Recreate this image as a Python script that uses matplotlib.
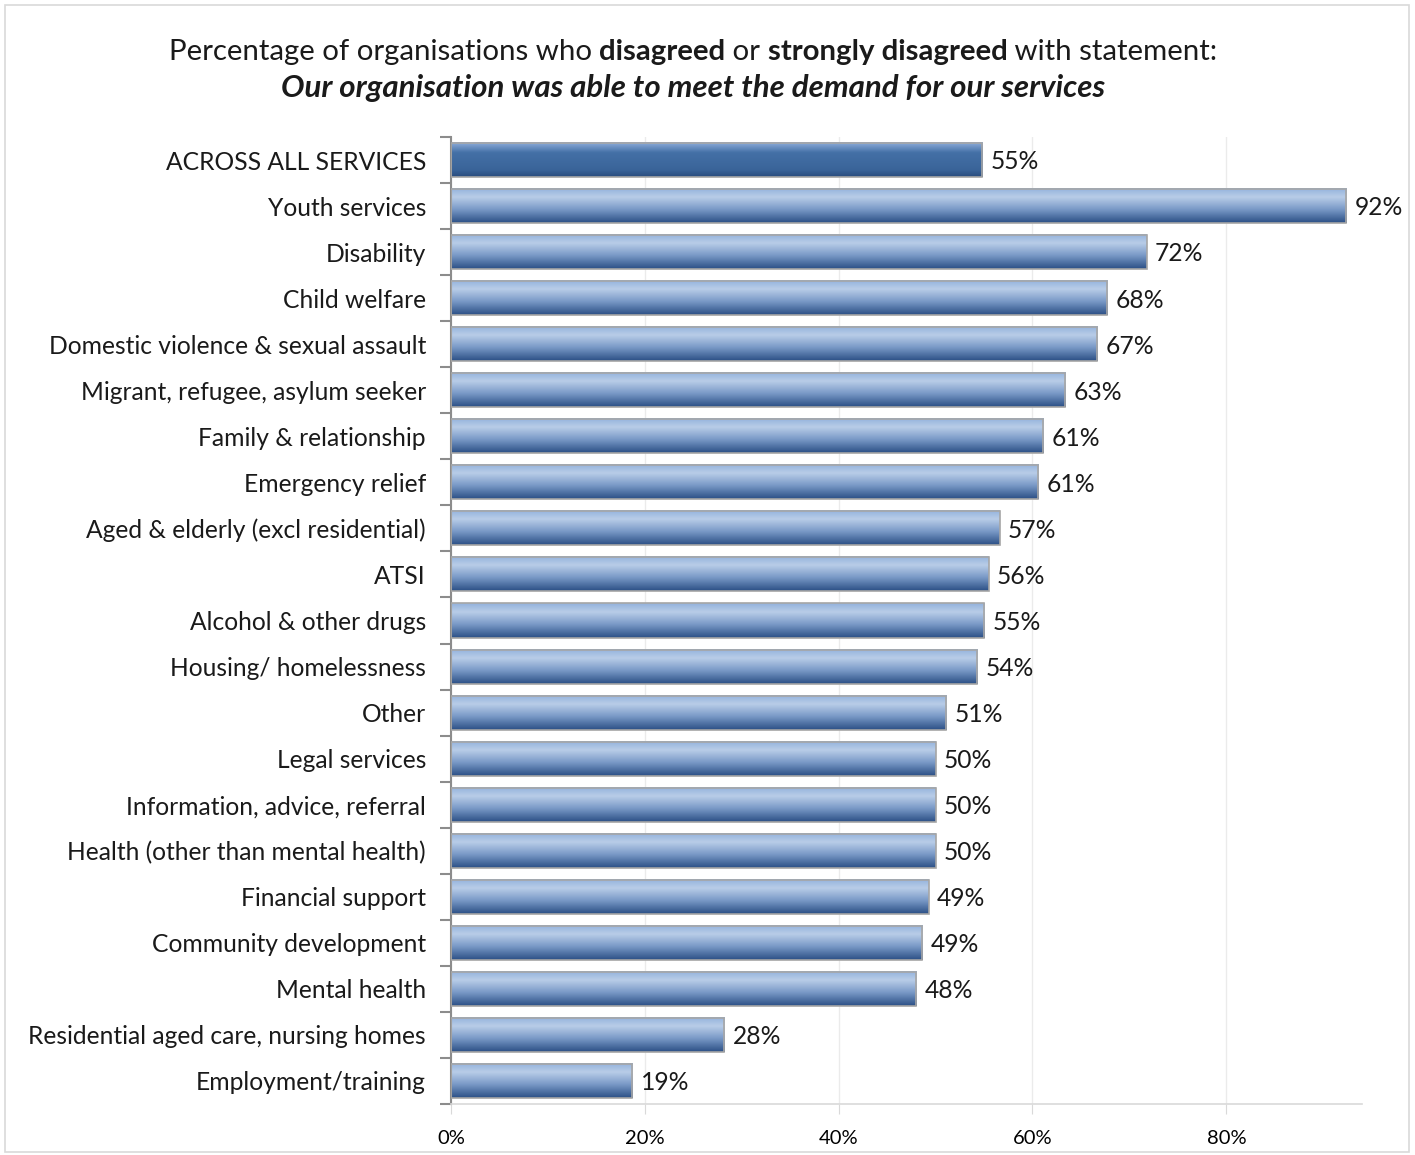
import numpy as np
import matplotlib.pyplot as plt
from matplotlib.colors import LinearSegmentedColormap
from matplotlib.patches import Rectangle

categories = [
    "ACROSS ALL SERVICES", "Youth services", "Disability", "Child welfare",
    "Domestic violence & sexual assault", "Migrant, refugee, asylum seeker",
    "Family & relationship", "Emergency relief", "Aged & elderly (excl residential)",
    "ATSI", "Alcohol & other drugs", "Housing/ homelessness", "Other",
    "Legal services", "Information, advice, referral", "Health (other than mental health)",
    "Financial support", "Community development", "Mental health",
    "Residential aged care, nursing homes", "Employment/training",
]
values = [54.8, 92.4, 71.8, 67.7, 66.7, 63.4, 61.1, 60.6, 56.6, 55.5, 55.0,
          54.3, 51.1, 50.0, 50.0, 50.0, 49.3, 48.6, 48.0, 28.2, 18.7]
xticks = [0, 20, 40, 60, 80]

plt.rcParams['font.family'] = ['Lato', 'DejaVu Sans']

# vertical shading, first entry is the bar's top edge
shade_normal = LinearSegmentedColormap.from_list(
    'normal', [(0, '#93b2dc'), (0.25, '#b9cde8'), (0.6, '#7b9bc8'), (1, '#2c5086')])
shade_total = LinearSegmentedColormap.from_list(
    'total', [(0, '#8eaedb'), (0.3, '#4470a6'), (0.8, '#3a6499'), (1, '#2a4c7e')])

fig = plt.figure(figsize=(14.15, 11.55), dpi=100)
ax = fig.add_axes([451 / 1415, 1 - 1104 / 1155, (1362 - 451) / 1415, (1104 - 137) / 1155])

n = len(categories)
xmax = 94.0
ax.set_xlim(0, xmax)
ax.set_ylim(n - 0.5, -0.5)
h = 0.74
grad = np.linspace(0, 1, 64).reshape(-1, 1)

for i, v in enumerate(values):
    cmap = shade_total if i == 0 else shade_normal
    ax.imshow(grad, cmap=cmap, aspect='auto', interpolation='bicubic',
              extent=[0, v, i + h / 2, i - h / 2], zorder=2)
    ax.add_patch(Rectangle((0, i - h / 2), v, h, fill=False,
                           edgecolor='#a6a6a6', linewidth=1.2, zorder=3))
    ax.text(v + 0.85, i + 0.04, f"{v:.0f}%", va='center', ha='left',
            fontsize=17.7, color='#1a1a1a')

ax.set_yticks(range(n))
ax.set_yticklabels(categories, fontsize=17.7, color='#1a1a1a')
ax.set_yticks(np.arange(-0.5, n, 1), minor=True)
ax.tick_params(axis='y', which='major', length=0, pad=18)
ax.tick_params(axis='y', which='minor', length=8, width=1.5, color='#8c8c8c')

ax.set_xticks(xticks)
ax.set_xticklabels([f"{t}%" for t in xticks], fontsize=14.5)
ax.tick_params(axis='x', length=7, color='#d9d9d9', pad=12)
ax.grid(axis='x', color='#ebebeb', linewidth=1, zorder=0)
ax.set_axisbelow(True)

for s in ['top', 'right']:
    ax.spines[s].set_visible(False)
ax.spines['left'].set_color('#8c8c8c')
ax.spines['left'].set_linewidth(1.5)
ax.spines['bottom'].set_color('#d9d9d9')
ax.spines['bottom'].set_linewidth(1.2)

# title line 1 built from pieces with mixed weights
pieces = [("Percentage of organisations who ", 'normal'), ("disagreed", 'bold'),
          (" or ", 'normal'), ("strongly disagreed", 'bold'),
          (" with statement:", 'normal')]
fig.canvas.draw()
r = fig.canvas.get_renderer()
texts = []
for s, w in pieces:
    texts.append(fig.text(0, 0, s, fontsize=21.2, fontweight=w, color='#1a1a1a'))
widths = [t.get_window_extent(r).width for t in texts]
total = sum(widths)
x0 = 693 - total / 2
for t, w in zip(texts, widths):
    t.set_position((x0 / 1415, 1 - 60 / 1155))
    t.set_va('baseline')
    x0 += w
fig.text(693 / 1415, 1 - 97 / 1155,
         "Our organisation was able to meet the demand for our services",
         ha='center', va='baseline', fontsize=22.5, fontweight='bold', style='italic',
         color='#1a1a1a')

fig.add_artist(Rectangle((5 / 1415, 1 - 1152 / 1155), 1404 / 1415, 1147 / 1155,
                         transform=fig.transFigure, fill=False,
                         edgecolor='#d9d9d9', linewidth=1.2))

fig.savefig('out.png', dpi=100)
